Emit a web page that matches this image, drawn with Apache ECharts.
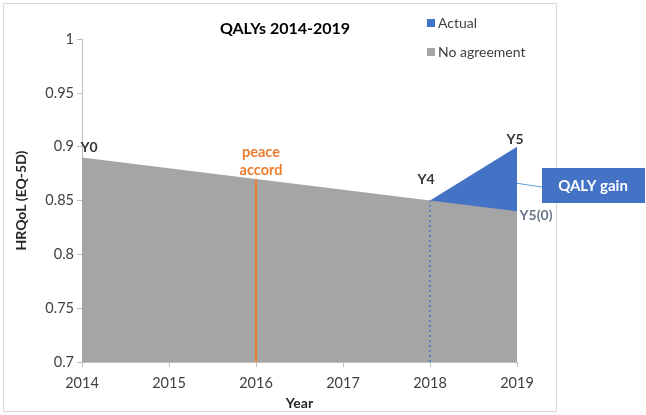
<!DOCTYPE html>
<html>
<head>
<meta charset="utf-8">
<script src="https://cdn.jsdelivr.net/npm/echarts@6/dist/echarts.min.js"></script>
<style>
  html, body { margin: 0; padding: 0; background: #fff; }
  #chart { width: 646px; height: 415px; }
</style>
</head>
<body>
<div id="chart"></div>
<script>
var years = [2014, 2015, 2016, 2017, 2018, 2019];
var noAgreement = [0.89, 0.88, 0.87, 0.86, 0.85, 0.84];
var actualYears = [2018, 2019];
var actual = [0.85, 0.90];
var peaceYear = 2016;
var y4Year = 2018;
var legendNames = ['Actual', 'No agreement'];
var pointLabels = [
    { name: 'Y0', x: 2014, y: 0.89, offset: [7, -10], color: '#000' },
    { name: 'Y4', x: 2018, y: 0.85, offset: [-4, -21], color: '#000' },
    { name: 'Y5', x: 2019, y: 0.90, offset: [-2, -7], color: '#000' },
    { name: 'Y5(0)', x: 2019, y: 0.84, offset: [19, 4], color: '#44546A' }
];
var gainAt = [2019, 0.866];

var font = 'Lato, "Open Sans", sans-serif';
var blue = '#4472C4';
var grey = '#A5A5A5';
var orange = '#ED7D31';

function pairs(xs, ys) {
    return xs.map(function (x, i) { return [x, ys[i]]; });
}

var chart = echarts.init(document.getElementById('chart'));
chart.setOption({
    animation: false,
    textStyle: { fontFamily: font },
    title: {
        text: 'QALYs 2014-2019',
        left: 280,
        top: 16,
        textAlign: 'center',
        textStyle: { fontSize: 16, fontWeight: 'bold', color: '#000', fontFamily: font }
    },
    grid: { left: 82, right: 129, top: 39, bottom: 48 },
    xAxis: {
        type: 'value',
        min: 2014,
        max: 2019,
        interval: 1,
        name: 'Year',
        nameLocation: 'middle',
        nameGap: 32,
        nameTextStyle: { fontSize: 14, fontWeight: 'bold', color: '#262626' },
        splitLine: { show: false },
        axisLine: { lineStyle: { color: '#bfbfbf' } },
        axisTick: { show: true, length: 5, lineStyle: { color: '#bfbfbf' } },
        axisLabel: {
            fontSize: 14.5,
            color: '#404040',
            margin: 14,
            formatter: function (v) { return String(v); }
        }
    },
    yAxis: {
        type: 'value',
        min: 0.7,
        max: 1,
        interval: 0.05,
        name: 'HRQoL (EQ-5D)',
        nameLocation: 'middle',
        nameGap: 54,
        nameTextStyle: { fontSize: 14, fontWeight: 'bold', color: '#262626' },
        splitLine: { show: false },
        axisLine: { show: true, lineStyle: { color: '#bfbfbf' } },
        axisTick: { show: true, length: 5, lineStyle: { color: '#bfbfbf' } },
        axisLabel: { fontSize: 14.5, color: '#404040', margin: 8 }
    },
    series: [
        {
            name: legendNames[0],
            type: 'line',
            data: pairs(actualYears, actual),
            symbol: 'none',
            lineStyle: { width: 0, color: blue },
            areaStyle: { color: blue, opacity: 1, origin: 'start' },
            z: 1
        },
        {
            name: legendNames[1],
            type: 'line',
            data: pairs(years, noAgreement),
            symbol: 'none',
            lineStyle: { width: 0, color: grey },
            areaStyle: { color: grey, opacity: 1, origin: 'start' },
            z: 2
        },
        {
            name: 'peace',
            type: 'line',
            data: [[peaceYear, 0.7], [peaceYear, noAgreement[years.indexOf(peaceYear)]]],
            symbol: 'none',
            lineStyle: { color: orange, width: 2 },
            z: 3,
            endLabel: {
                show: true,
                formatter: 'peace\naccord',
                color: orange,
                fontSize: 14.5,
                fontWeight: 'bold',
                lineHeight: 18,
                align: 'center',
                offset: [-3, -18]
            }
        },
        {
            name: 'y4line',
            type: 'line',
            data: [[y4Year, 0.7], [y4Year, noAgreement[years.indexOf(y4Year)]]],
            symbol: 'none',
            lineStyle: { color: blue, width: 1.5, type: [2, 3] },
            z: 3
        },
        {
            name: 'labels',
            type: 'scatter',
            symbolSize: 0,
            silent: true,
            z: 4,
            data: pointLabels.map(function (p) {
                return {
                    value: [p.x, p.y],
                    label: {
                        show: true,
                        position: 'inside',
                        formatter: p.name,
                        offset: p.offset,
                        color: p.color,
                        fontSize: 14,
                        fontWeight: 'bold'
                    }
                };
            })
        }
    ]
});

// legend and callout drawn as graphics
var legendColors = [blue, grey];
var legendItems = [];
legendNames.forEach(function (n, i) {
    var cy = 23 + i * 29;
    legendItems.push({
        type: 'rect',
        shape: { x: 427, y: cy - 4, width: 8, height: 8 },
        style: { fill: legendColors[i] },
        silent: true
    });
    legendItems.push({
        type: 'text',
        x: 438,
        y: cy,
        style: {
            text: n,
            fill: '#404040',
            font: '14px ' + font,
            textVerticalAlign: 'middle'
        },
        silent: true
    });
});

var p = chart.convertToPixel({ gridIndex: 0 }, gainAt);
chart.setOption({
    graphic: legendItems.concat([
        {
            type: 'rect',
            shape: { x: 3.5, y: 3.5, width: 553, height: 408 },
            style: { fill: 'none', stroke: '#d9d9d9', lineWidth: 1 },
            silent: true
        },
        {
            type: 'line',
            shape: { x1: p[0], y1: p[1], x2: 542, y2: 187 },
            style: { stroke: '#5B9BD5', lineWidth: 1 },
            z: 10
        },
        {
            type: 'rect',
            shape: { x: 542, y: 168, width: 103, height: 35 },
            style: { fill: blue },
            z: 10
        },
        {
            type: 'text',
            x: 593,
            y: 186,
            style: {
                text: 'QALY gain',
                fill: '#fff',
                font: 'bold 15px ' + font,
                textAlign: 'center',
                textVerticalAlign: 'middle'
            },
            z: 11
        }
    ])
});
</script>
</body>
</html>
